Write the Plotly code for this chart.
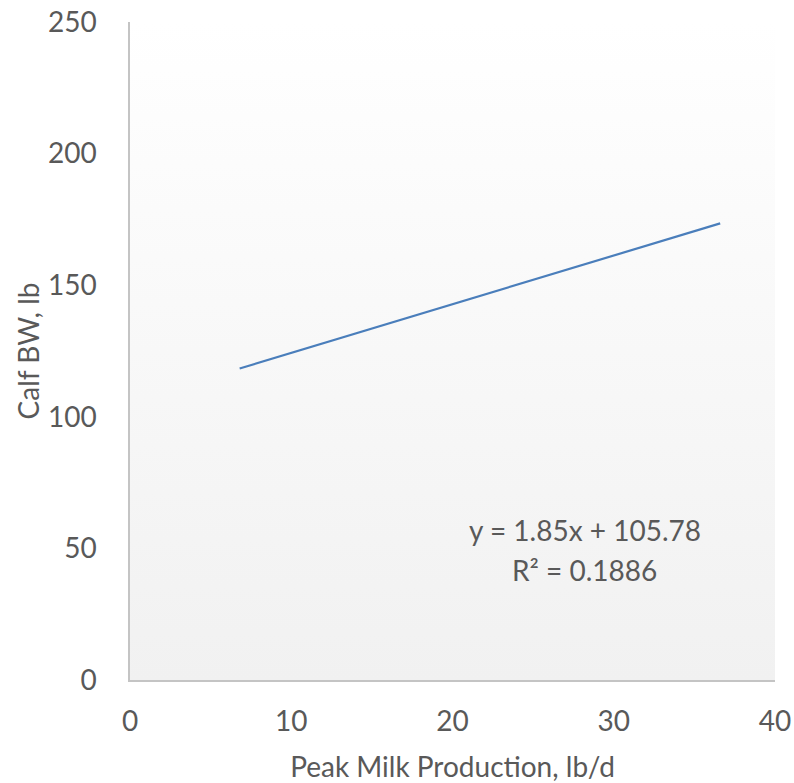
import plotly.graph_objects as go

# Trendline data (linear fit shown in the chart)
x_line = [6.8, 36.6]
slope = 1.85
intercept = 105.78
y_line = [slope * v + intercept for v in x_line]
equation_line1 = "y = 1.85x + 105.78"
equation_line2 = "R² = 0.1886"
x_ticks = [0, 10, 20, 30, 40]
y_ticks = [0, 50, 100, 150, 200, 250]
x_range = [0, 40]
y_range = [0, 250]

font_fam = "Lato, 'Open Sans', sans-serif"
txt_col = "#595959"
fs = 28

fig = go.Figure()

# gradient background of plot area
fig.add_trace(go.Scatter(
    x=[x_range[0], x_range[1], x_range[1], x_range[0], x_range[0]],
    y=[y_range[0], y_range[0], y_range[1], y_range[1], y_range[0]],
    fill="toself", mode="none", hoverinfo="skip", showlegend=False,
    fillgradient=dict(type="vertical",
                      colorscale=[[0, "#f1f1f1"], [1, "#ffffff"]]),
))

fig.add_trace(go.Scatter(
    x=x_line, y=y_line, mode="lines",
    line=dict(color="#4a7ebb", width=2.2), showlegend=False,
))

fig.add_annotation(
    x=28.2, y=57, xref="x", yref="y", text=equation_line1, showarrow=False,
    font=dict(family=font_fam, size=fs, color=txt_col), align="center",
)
fig.add_annotation(
    x=28.2, y=41.8, xref="x", yref="y", text=equation_line2, showarrow=False,
    font=dict(family=font_fam, size=fs, color=txt_col), align="center",
)

fig.update_layout(
    width=794, height=783,
    margin=dict(l=130, r=19, t=22, b=103),
    paper_bgcolor="white", plot_bgcolor="white",
    font=dict(family=font_fam, size=fs, color=txt_col),
    xaxis=dict(range=x_range, tickvals=x_ticks, showgrid=False, zeroline=False,
               showline=True, linecolor="#c4c4c4", linewidth=1.5, automargin=False,
               ticks="outside", ticklen=16, tickcolor="rgba(0,0,0,0)",
               ticklabeloverflow="allow",
               tickfont=dict(size=fs, color=txt_col),
               title=dict(text="Peak Milk Production, lb/d", standoff=22,
                          font=dict(size=fs, color=txt_col))),
    yaxis=dict(range=y_range, tickvals=y_ticks, showgrid=False, zeroline=False,
               showline=True, linecolor="#c4c4c4", linewidth=1.5, automargin=False,
               ticks="outside", ticklen=26, tickcolor="rgba(0,0,0,0)",
               ticklabeloverflow="allow",
               tickfont=dict(size=fs, color=txt_col),
               title=dict(text="Calf BW, lb", standoff=0,
                          font=dict(size=fs, color=txt_col))),
)

fig.write_html(
    "out.html",
    config={"displayModeBar": False},
    post_script=("document.body.style.margin='0';"
                 "document.body.style.overflow='hidden';"
                 "document.documentElement.style.overflow='hidden';"),
)
